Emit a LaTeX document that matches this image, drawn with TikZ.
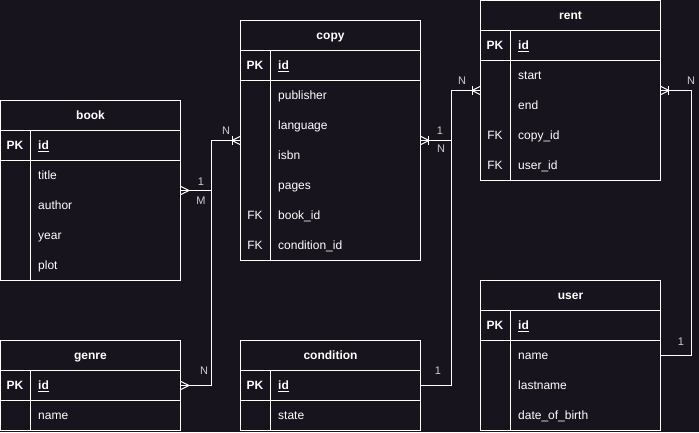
\documentclass[tikz,border=0pt]{standalone}
\usepackage{fontspec}
\setmainfont{Liberation Sans}
\usetikzlibrary{calc,positioning}

\definecolor{bgdark}{RGB}{24,20,29}
\definecolor{labelgrey}{RGB}{205,205,205}

\tikzset{
	erline/.style={draw=white, line width=1pt},
	erbox/.style={erline, fill=bgdark, inner sep=0pt, minimum width=180pt, anchor=north west},
	ertitle/.style={font=\fontsize{12}{14}\selectfont\bfseries, text=white, text height=10.5pt, text depth=2pt},
	erkey/.style={font=\fontsize{12}{14}\selectfont, text=white, text height=10.5pt, text depth=2pt},
	erattr/.style={erkey, anchor=west, inner sep=0pt},
	cardlabel/.style={font=\fontsize{11}{13}\selectfont, text=labelgrey, inner sep=0pt},
}

% entity: name, top left, height, title, attribute rows (key/name)
\newcommand\erentity[5]{
	\node[erbox, minimum height=#3] (#1) at (#2) {};
	\node[ertitle] (#1-title) at ($(#1.north)+(0,15)$) {#4};
	\draw[erline] ([yshift=-30pt]#1.north west) -- ([yshift=-30pt]#1.north east);
	\draw[erline] ([yshift=-60pt]#1.north west) -- ([yshift=-60pt]#1.north east);
	\draw[erline] ([shift={(30pt,-30pt)}]#1.north west) -- ([xshift=30pt]#1.south west);
	\node[ertitle] (#1-pk) at ($(#1.north west)+(15,45)$) {PK};
	\node[ertitle, anchor=west, inner sep=0pt] (#1-id) at ($(#1.north west)+(38,45)$) {\underline{id}};
	\foreach \k/\a [count=\i] in {#5} {
		\node[erkey] (#1-k\i) at ($(#1.north west)+(15,45+30*\i)$) {\k};
		\node[erattr] (#1-a\i) at ($(#1.north west)+(38,45+30*\i)$) {\a};
	}
}
% crow's foot at an end point, #2 = 1 (to the right) or -1 (to the left)
\def\ermany(#1)(#2){\draw[erline] ($(#1)+(0,-4)$) -- ($(#1)+(#2*8,0)$) -- ($(#1)+(0,4)$);}
\def\eronemany(#1)(#2){\ermany(#1)(#2)\draw[erline] ($(#1)+(#2*7.5,-4.5)$) -- ($(#1)+(#2*7.5,4.5)$);}

\begin{document}
\begin{tikzpicture}[x=1pt, y=-1pt]
		%%%%% START %%%%%
		
		\fill[bgdark] (0,0) rectangle (699,432);
		\useasboundingbox (0,0) rectangle (699,432);
		
		\erentity{book}{0,100}{180pt}{book}{/title, /author, /year, /plot}
		\erentity{copy}{240,20}{240pt}{copy}{/publisher, /language, /isbn, /pages, FK/book\_id, FK/condition\_id}
		\erentity{rent}{480,0}{180pt}{rent}{/start, /end, FK/copy\_id, FK/user\_id}
		\erentity{genre}{0,340}{90pt}{genre}{/name}
		\erentity{condition}{240,340}{90pt}{condition}{/state}
		\erentity{user}{480,280}{150pt}{user}{/name, /lastname, /date\_of\_birth}
		
		% book -- copy
		\draw[erline] (book.east) -- ++(30,0) |- (copy.west);
		\ermany(book.east)(1)
		\eronemany(copy.west)(-1)
		\node[cardlabel] (book-one) at ($(book.east)+(20,-9)$) {1};
		\node[cardlabel] (book-m) at ($(book.east)+(20,10)$) {M};
		\node[cardlabel] (copy-n) at ($(copy.west)+(-14,-10)$) {N};
		
		% genre -- copy
		\draw[erline] (genre.east) -- ++(30,0) |- (copy.west);
		\ermany(genre.east)(1)
		\node[cardlabel] (genre-n) at ($(genre.east)+(23,-15)$) {N};
		
		% copy -- rent
		\draw[erline] (copy.east) -- ++(30,0) |- (rent.west);
		\eronemany(copy.east)(1)
		\eronemany(rent.west)(-1)
		\node[cardlabel] (copy-one) at ($(copy.east)+(19,-10)$) {1};
		\node[cardlabel] (copy-nr) at ($(copy.east)+(20,8)$) {N};
		\node[cardlabel] (rent-n) at ($(rent.west)+(-18,-10)$) {N};
		
		% condition -- copy
		\draw[erline] (condition.east) -- ++(30,0) |- (copy.east);
		\node[cardlabel] (condition-one) at ($(condition.east)+(17,-15)$) {1};
		
		% rent -- user
		\draw[erline] (rent.east) -- ++(30,0) |- (user.east);
		\eronemany(rent.east)(1)
		\node[cardlabel] (rent-nr) at ($(rent.east)+(30,-10)$) {N};
		\node[cardlabel] (user-one) at ($(user.east)+(20,-14)$) {1};
		
		%%%%% END %%%%%
	\end{tikzpicture}
\end{document}
